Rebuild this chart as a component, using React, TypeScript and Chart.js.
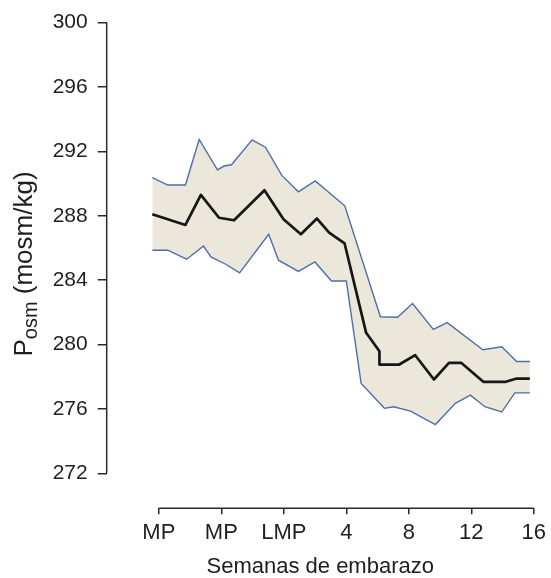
import React, { useEffect, useRef } from "react";
import { Chart, registerables } from "chart.js";

Chart.register(...registerables);

// ---- data (x in weeks relative to LMP; MP = -8 and -4) ----
const meanWeeks = [-8.42, -6.3, -5.31, -4.15, -3.19, -1.24, -0.02, 1.09, 2.12, 2.9, 3.89, 5.27, 6.12, 6.12, 7.39, 8.41, 9.61, 10.57, 11.37, 12.79, 14.16, 14.9, 15.75];
const meanValues = [288.1, 287.43, 289.3, 287.88, 287.72, 289.59, 287.78, 286.85, 287.83, 286.96, 286.28, 280.73, 279.59, 278.76, 278.76, 279.34, 277.83, 278.86, 278.86, 277.68, 277.68, 277.89, 277.89];

const upperWeeks = [-8.42, -7.43, -6.3, -5.42, -4.25, -3.83, -3.35, -2.03, -1.18, -0.13, 0.93, 2.01, 3.9, 6.18, 7.28, 8.24, 9.57, 10.46, 12.74, 13.95, 14.9, 15.75];
const upperValues = [290.37, 289.91, 289.91, 292.74, 290.85, 291.09, 291.17, 292.72, 292.26, 290.51, 289.49, 290.17, 288.62, 281.73, 281.7, 282.55, 280.94, 281.36, 279.68, 279.86, 278.95, 278.95];

const lowerWeeks = [-8.42, -7.43, -6.22, -5.14, -4.67, -3.72, -2.83, -0.97, -0.34, 0.93, 1.99, 3.05, 4.0, 4.95, 6.44, 7.03, 8.11, 9.7, 10.98, 11.94, 12.87, 13.95, 14.79, 15.75];
const lowerValues = [285.86, 285.86, 285.3, 286.12, 285.44, 284.99, 284.45, 286.85, 285.24, 284.55, 285.13, 283.95, 283.95, 277.59, 276.04, 276.14, 275.87, 275.03, 276.35, 276.86, 276.14, 275.81, 277.0, 277.0];

const yTicks = [272, 276, 280, 284, 288, 292, 296, 300];
const xTickPositions = [-8, -4, 0, 4, 8, 12, 16];
const xTickLabels = ["MP", "MP", "LMP", "4", "8", "12", "16"];
const xAxisTitle = "Semanas de embarazo";
const yTitleMain = "P";
const yTitleSub = "osm";
const yTitleRest = " (mosm/kg)";

const FONT = '"Liberation Sans", Arial, Helvetica, sans-serif';
const TEXT = "#1e1e1e";
const AXIS = "#2a2a2a";

const toPoints = (xs: number[], ys: number[]) => xs.map((x, i) => ({ x, y: ys[i] }));

const axesPlugin = {
  id: "customAxes",
  afterDraw(chart: any) {
    const { ctx, chartArea, scales } = chart;
    const xs = scales.x;
    const ys = scales.y;
    ctx.save();
    ctx.strokeStyle = AXIS;
    ctx.lineWidth = 1.5;
    // y axis line
    ctx.beginPath();
    ctx.moveTo(chartArea.left, ys.getPixelForValue(yTicks[yTicks.length - 1]));
    ctx.lineTo(chartArea.left, ys.getPixelForValue(yTicks[0]));
    ctx.stroke();
    // x axis line
    ctx.beginPath();
    ctx.moveTo(xs.getPixelForValue(xTickPositions[0]), chartArea.bottom);
    ctx.lineTo(xs.getPixelForValue(xTickPositions[xTickPositions.length - 1]), chartArea.bottom);
    ctx.stroke();

    // y title with subscript
    const big = `26px ${FONT}`;
    const small = `20px ${FONT}`;
    ctx.fillStyle = TEXT;
    ctx.font = big;
    const w1 = ctx.measureText(yTitleMain).width;
    const w3 = ctx.measureText(yTitleRest).width;
    ctx.font = small;
    const w2 = ctx.measureText(yTitleSub).width;
    const total = w1 + w2 + w3;
    const cy = (ys.getPixelForValue(yTicks[0]) + ys.getPixelForValue(yTicks[yTicks.length - 1])) / 2 + 16;
    ctx.translate(32, cy);
    ctx.rotate(-Math.PI / 2);
    ctx.textBaseline = "alphabetic";
    ctx.textAlign = "left";
    let x = -total / 2;
    ctx.font = big;
    ctx.fillText(yTitleMain, x, 0);
    x += w1;
    ctx.font = small;
    ctx.fillText(yTitleSub, x, 5);
    x += w2;
    ctx.font = big;
    ctx.fillText(yTitleRest, x, 0);
    ctx.restore();
  },
};

export default function App() {
  const ref = useRef<HTMLCanvasElement | null>(null);
  useEffect(() => {
    if (!ref.current) return;
    const chart = new Chart(ref.current, {
      type: "line",
      data: {
        datasets: [
          {
            label: "mean",
            data: toPoints(meanWeeks, meanValues),
            borderColor: "#161616",
            borderWidth: 2.7,
            borderJoinStyle: "round",
            pointRadius: 0,
            fill: false,
          },
          {
            label: "upper",
            data: toPoints(upperWeeks, upperValues),
            borderColor: "#4d6fa8",
            borderWidth: 1.4,
            pointRadius: 0,
            fill: "+1",
            backgroundColor: "#ece7db",
          },
          {
            label: "lower",
            data: toPoints(lowerWeeks, lowerValues),
            borderColor: "#4d6fa8",
            borderWidth: 1.4,
            pointRadius: 0,
            fill: false,
          },
        ],
      },
      options: {
        animation: false,
        responsive: true,
        maintainAspectRatio: false,
        layout: { padding: { top: 22, right: 13.7, left: 0, bottom: 0 } },
        plugins: {
          legend: { display: false },
          tooltip: { enabled: false },
          filler: { drawTime: "beforeDatasetsDraw" },
        },
        scales: {
          x: {
            type: "linear",
            min: -11.34,
            max: 16,
            afterBuildTicks: (s: any) => {
              s.ticks = xTickPositions.map((v) => ({ value: v }));
            },
            afterFit: (s: any) => {
              s.height = 69.7;
            },
            ticks: {
              autoSkip: false,
              maxRotation: 0,
              padding: 5,
              color: TEXT,
              font: { family: FONT, size: 22 },
              callback: (_v: any, i: number) => xTickLabels[i],
            },
            grid: { drawOnChartArea: false, drawTicks: true, tickLength: 6, color: AXIS, lineWidth: 1.5 },
            border: { display: false },
            title: {
              display: true,
              text: xAxisTitle,
              color: TEXT,
              font: { family: FONT, size: 22, lineHeight: 1 },
              padding: 0,
            },
          },
          y: {
            type: "linear",
            min: 269.83,
            max: 300,
            afterBuildTicks: (s: any) => {
              s.ticks = yTicks.map((v) => ({ value: v }));
            },
            afterFit: (s: any) => {
              s.width = 106.7;
            },
            ticks: {
              padding: 10,
              color: TEXT,
              font: { family: FONT, size: 21 },
            },
            grid: { drawOnChartArea: false, drawTicks: true, tickLength: 9, color: AXIS, lineWidth: 1.5 },
            border: { display: false },
          },
        },
      },
      plugins: [axesPlugin],
    } as any);
    return () => chart.destroy();
  }, []);

  return (
    <div style={{ position: "absolute", left: 0, top: 0, width: 551, height: 578, background: "#fff" }}>
      <canvas ref={ref} />
    </div>
  );
}
